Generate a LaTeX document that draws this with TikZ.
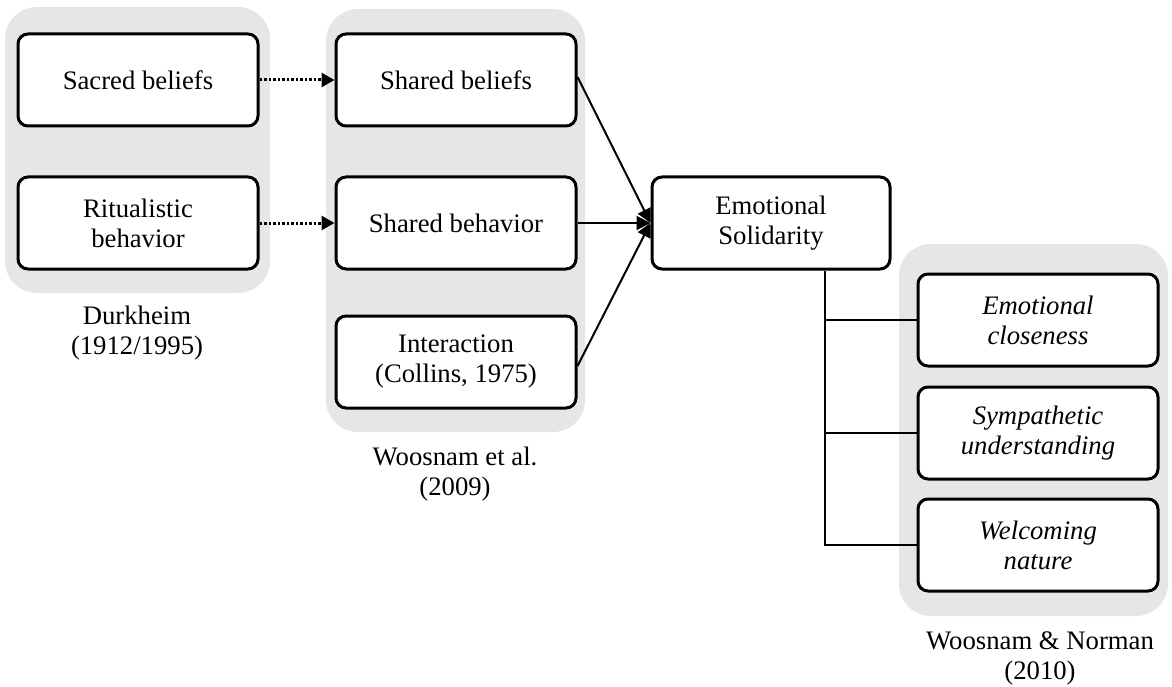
\documentclass[tikz,border=0pt]{standalone}
\usepackage{fontspec}
\setmainfont{Liberation Serif}
\usetikzlibrary{arrows.meta,positioning}

\definecolor{groupgray}{RGB}{230,230,230}

\tikzset{
  box/.style={draw=black, line width=3pt, rounded corners=10pt, fill=white,
    minimum width=240pt, minimum height=92pt, align=center, inner sep=2pt,
    font=\fontsize{26.7}{30}\selectfont},
  ibox/.style={box, font=\fontsize{26.7}{30}\selectfont\itshape},
  group/.style={fill=groupgray, draw=none, rounded corners=32pt},
  caption/.style={align=center, font=\fontsize{26.7}{30}\selectfont},
  dotarrow/.style={line width=3pt, dash pattern=on 2.5pt off 2pt,
    -{Triangle[length=13pt,width=14pt]}},
  solidarrow/.style={line width=2pt, -{Triangle[length=14pt,width=14pt]}},
  link/.style={line width=2pt}
}

\begin{document}
\begin{tikzpicture}[x=1pt, y=-1pt]
  \useasboundingbox (0,0) rectangle (1172,687);

  % grey backgrounds of the three sources
  \fill[group] (5,7) rectangle (270,293);
  \fill[group] (326,9) rectangle (585,432);
  \fill[group] (899,244) rectangle (1168,616);

  % Durkheim
  \node[box] (sacred) at (138,80) {Sacred beliefs};
  \node[box] (ritual) at (138,223) {Ritualistic\\behavior};
  \node[caption] (durk) at (137,333) {Durkheim\\(1912/1995)};

  % Woosnam et al.
  \node[box] (sbel) at (456,80) {Shared beliefs};
  \node[box] (sbeh) at (456,223) {Shared behavior};
  \node[box] (inter) at (456,362) {Interaction\\(Collins, 1975)};
  \node[caption] (woos) at (455,474) {Woosnam et al.\\(2009)};

  % central construct
  \node[box, minimum width=238pt] (emo) at (771,223) {Emotional\\Solidarity};

  % Woosnam & Norman dimensions
  \node[ibox] (close) at (1038,320) {Emotional\\closeness};
  \node[ibox] (symp) at (1038,433) {Sympathetic\\understanding};
  \node[ibox] (welc) at (1038,545) {Welcoming\\nature};
  \node[caption] (wn) at (1040,658) {Woosnam \& Norman\\(2010)};

  % connectors
  \draw[dotarrow] (sacred.east) -- (sbel.west);
  \draw[dotarrow] (ritual.east) -- (sbeh.west);

  \draw[solidarrow] ([yshift=3pt]sbel.east) -- (emo.west);
  \draw[solidarrow] (sbeh.east) -- (emo.west);
  \draw[solidarrow] ([yshift=-4pt]inter.east) -- (emo.west);

  \coordinate (ttop) at ([xshift=-67pt]emo.south east);
  \draw[link] (ttop) |- (welc.west);
  \draw[link] (ttop |- close.west) -- (close.west);
  \draw[link] (ttop |- symp.west) -- (symp.west);
\end{tikzpicture}
\end{document}
